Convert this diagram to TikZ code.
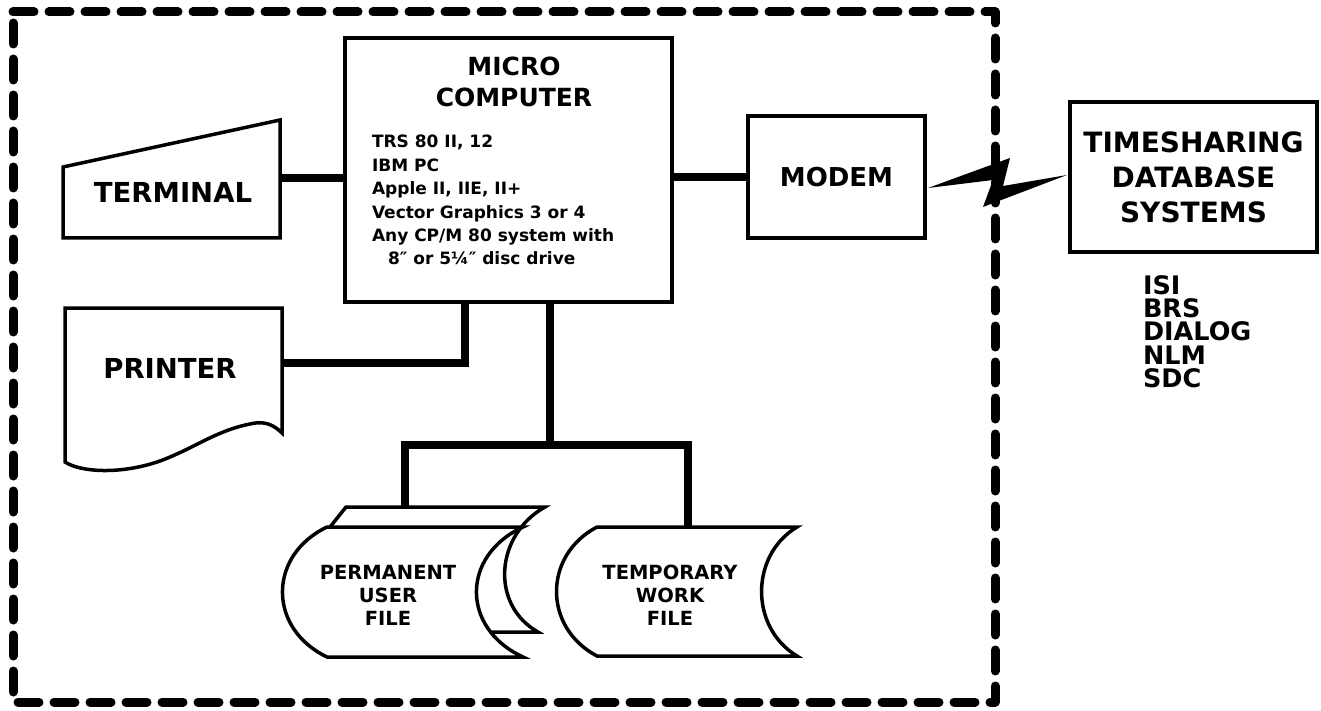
\documentclass[tikz,border=0pt]{standalone}
\usepackage{fontspec}
\setmainfont{DejaVu Sans}
\usetikzlibrary{calc}
\newcommand\filesheet[6]{% x0, y0, W, H, bulge, concave
  \draw[outline] (#1,#2) -- ({#1+#3},#2)
    .. controls ({#1+#3-1.35*#6},{#2+0.22*#4}) and ({#1+#3-1.35*#6},{#2+0.78*#4}) .. ({#1+#3},{#2+#4})
    -- (#1,{#2+#4})
    .. controls ({#1-1.35*#5},{#2+0.78*#4}) and ({#1-1.35*#5},{#2+0.22*#4}) .. (#1,#2) -- cycle;}
\begin{document}
\begin{tikzpicture}[x=1pt,y=-1pt,
  box/.style={draw,line width=4pt,fill=white,inner sep=0pt,outer sep=0pt},
  conn/.style={line width=8pt,line join=miter},
  outline/.style={draw,line width=3.5pt,fill=white,line join=miter},
  border/.style={line width=9pt,dash pattern=on 21pt off 15pt,line cap=round,line join=round},
  fbig/.style={font=\bfseries\fontsize{27.5}{34}\selectfont},
  fmc/.style={font=\bfseries\fontsize{25}{31}\selectfont},
  flist/.style={font=\bfseries\fontsize{17}{23.4}\selectfont},
  fmodem/.style={font=\bfseries\fontsize{26}{32}\selectfont},
  fts/.style={font=\bfseries\fontsize{28}{35}\selectfont},
  fdb/.style={font=\bfseries\fontsize{25.5}{23.3}\selectfont},
  ffile/.style={font=\bfseries\fontsize{19.5}{23}\selectfont},
  txt/.style={inner sep=0pt,outer sep=0pt}
]
\fill[white] (0,0) rectangle (1321,711);
\useasboundingbox (0,0) rectangle (1321,711);

% dashed enclosure
\draw[border] (13,12) -- (995,12) -- (995,702) -- (13,702) -- cycle;

% main boxes
\node[box,minimum width=327pt,minimum height=264pt] (mc) at (508.5,170) {};
\node[box,minimum width=177pt,minimum height=122pt,fmodem] (modem) at (836.5,177) {MODEM};
\node[box,minimum width=247pt,minimum height=150pt,fts,align=center] (ts) at (1193.5,177) {TIMESHARING\\DATABASE\\SYSTEMS};

% connection points
\coordinate (terme) at (280,178);
\coordinate (prne) at (282,363);
\coordinate (p1) at ([xshift=120pt]mc.south west);
\coordinate (p2) at ([xshift=205pt]mc.south west);
\coordinate (br) at (550,445);
\coordinate (ptop) at (405,507);
\coordinate (ttop) at (688,527);

% connectors
\draw[conn] (terme) -- (terme -| mc.west);
\draw[conn] (mc.east |- modem.west) -- (modem.west);
\draw[conn] (p1) |- (prne);
\draw[conn] (p2) -- (br);
\draw[conn] (ptop) |- (br) -| (ttop);

% terminal
\draw[outline] (63,167) -- (280,120) -- (280,238) -- (63,238) -- cycle;
\node[txt,fbig] (terminal) at (173,192) {TERMINAL};

% printer
\draw[outline] (65,308) -- (282,308) -- (282,433)
  .. controls (272,423) and (262,421) .. (250,424)
  .. controls (215,431) and (195,448) .. (160,461)
  .. controls (120,475) and (80,472) .. (65,462) -- cycle;
\node[txt,fbig] (printer) at (170,368) {PRINTER};

% files: back sheet of the permanent file (partly hidden)
\filldraw[outline] (330,527) -- (346,507) -- (545,507)
  .. controls (495,535) and (490,605) .. (538,632) -- (485,632);
\filesheet{327}{527}{196}{130}{44}{46}
\filesheet{597}{527}{200}{129}{40}{35}
\node[txt,ffile,align=center] (perm) at (388,595) {PERMANENT\\USER\\FILE};
\node[txt,ffile,align=center] (temp) at (670,595) {TEMPORARY\\WORK\\FILE};

% micro computer text
\node[txt,fmc,anchor=base] (mc1) at (514,76) {MICRO};
\node[txt,fmc,anchor=base] (mc2) at (514,107) {COMPUTER};
\node[txt,flist,anchor=base west] (l1) at (372,148) {TRS 80 II, 12};
\node[txt,flist,anchor=base west] (l2) at (372,171.4) {IBM PC};
\node[txt,flist,anchor=base west] (l3) at (372,194.8) {Apple II, IIE, II+};
\node[txt,flist,anchor=base west] (l4) at (372,218.2) {Vector Graphics 3 or 4};
\node[txt,flist,anchor=base west] (l5) at (372,241.6) {Any CP/M 80 system with};
\node[txt,flist,anchor=base west] (l6) at (388,265) {8″ or 5¼″ disc drive};

% database list
\node[txt,fdb,align=left,anchor=west] (dbs) at (1143,331.5) {ISI\\BRS\\DIALOG\\NLM\\SDC};

% lightning link
\fill ($(modem.east)+(3,11)$) -- (1010,158) -- (1003,186) -- ($(ts.west)+(-3,-2)$) -- (983,207) -- (993,180) -- cycle;
\end{tikzpicture}
\end{document}
